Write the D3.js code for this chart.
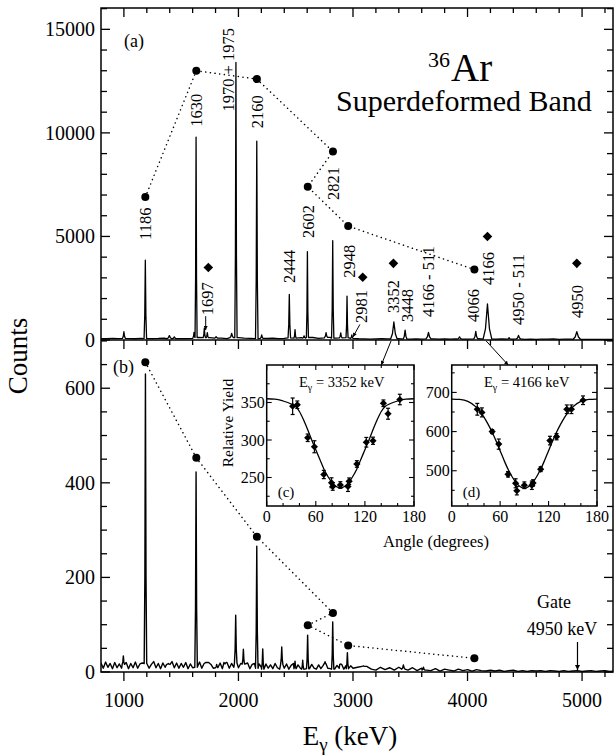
<!DOCTYPE html>
<html><head><meta charset="utf-8">
<script src="https://cdn.jsdelivr.net/npm/d3@7"></script>
<style>
body{margin:0;background:#fff;}
svg{display:block;font-family:"Liberation Serif","Times New Roman",serif;}
</style></head><body>
<svg id="chart" width="614" height="756"></svg>
<script>
// ---------------- DATA ----------------
const xMajorTicks = [1000, 2000, 3000, 4000, 5000];
const topYTickLabels = [0, 5000, 10000, 15000];
const botYTickLabels = [0, 200, 400, 600];

// panel (a): peaks (energy keV, counts, half-width keV)
const topPeakE = [1000, 1187, 1397, 1440, 1612, 1630, 1702, 1728, 1805, 1941, 1978, 2160, 2203, 2444, 2494, 2573, 2602, 2765, 2823, 2893, 2948, 2990, 3357, 3455, 3659, 3930, 4072, 4174, 4363, 4445, 4954];
const topPeakH = [400, 3850, 210, 150, 370, 9800, 570, 360, 160, 320, 13400, 9600, 250, 2200, 500, 200, 4270, 360, 4800, 340, 2120, 250, 870, 480, 370, 150, 420, 1740, 110, 220, 400];
const topPeakW = [12, 11, 20, 15, 8, 9, 10, 10, 14, 15, 10, 11, 12, 11, 9, 12, 9, 12, 10, 12, 9, 10, 28, 16, 22, 20, 16, 38, 16, 20, 32];
// panel (a): background counts every 50 keV from 800
const topBaseC = [70, 60, 75, 65, 80,
  70, 60, 80, 65, 70, 75, 90, 60, 70, 65,
  70, 80, 120, 90, 110, 80, 90, 70, 120, 110,
  90, 80, 110, 70, 80, 90, 70, 80, 100, 90,
  110, 90, 120, 80, 100, 130, 90, 100, 110, 80,
  60, 50, 45, 55, 60, 50, 70, 60, 50, 45,
  50, 45, 60, 50, 40, 55, 45, 50, 40, 45,
  50, 60, 70, 45, 40, 50, 45, 40, 50, 35,
  40, 35, 45, 40, 50, 35, 40, 45, 40, 35,
  30, 35, 30, 35, 30, 30];

// panel (b): peaks
const botPeakE = [995, 1188, 1388, 1630, 1723, 1810, 1883, 1976, 2043, 2160, 2212, 2378, 2494, 2561, 2604, 2756, 2823, 2893, 2951, 3091, 3440, 3615];
const botPeakH = [34, 630, 18, 423, 20, 16, 17, 120, 48, 266, 49, 53, 23, 25, 78, 22, 106, 17, 41, 13, 15, 10];
const botPeakW = [10, 11, 15, 11, 10, 10, 10, 11, 10, 11, 10, 10, 9, 9, 10, 9, 10, 9, 10, 12, 14, 12];
// panel (b): background every 20 keV from 800 to 3000, then every 40 keV
const botBaseC1 = [19, 8, 21, 10, 18, 7, 20, 9, 17, 8,
  16, 20, 7, 18, 9, 21, 8, 17, 19, 9,
  18, 8, 16, 22, 9, 18, 7, 19, 10, 20,
  16, 22, 9, 19, 8, 18, 10, 20, 7, 17,
  9, 19, 10, 21, 8, 18, 9, 20, 16, 8,
  18, 9, 19, 7, 17, 20, 8, 18, 10, 19,
  9, 18, 8, 17, 19, 7, 16, 18, 8, 17,
  10, 6, 17, 8, 15, 7, 18, 9, 6, 16,
  8, 17, 6, 14, 18, 7, 15, 8, 16, 6,
  14, 7, 16, 8, 6, 15, 7, 14, 17, 8,
  7, 15, 6, 14, 8, 16, 6, 14, 7, 13,
  8];
const botBaseC2 = [10, 5, 12, 6, 4, 10, 5, 9, 4, 10,
  6, 4, 9, 3, 8, 4, 3, 7, 2, 6,
  4, 2, 6, 3, 5, 2, 5, 3, 2, 4,
  2, 4, 1, 3, 4, 1, 3, 1, 3, 2,
  3, 1, 3, 2, 1, 3, 1, 2, 3, 1,
  2, 3, 1, 2, 3, 1, 2];

// SD band intensity markers (connected by dotted line)
const bandE = [1187, 1632, 2161, 2825, 2605, 2958, 4060];
const bandTop = [6900, 13000, 12600, 9100, 7400, 5500, 3400];
const bandBot = [655, 453, 286, 125, 99, 56, 29];

// diamonds in panel (a)
const diamondE = [1737, 3085, 3353, 4174, 4954];
const diamondC = [3500, 3030, 3700, 5000, 3700];

// peak labels in panel (a)
const labelText = ["1186", "1630", "1970 + 1975", "2160", "2444", "2602", "2821", "2948", "2981", "1697", "3352", "3448", "4166 - 511", "4066", "4166", "4950 - 511", "4950"];
const labelE = [1186, 1630, 1912, 2160, 2444, 2605, 2828, 2969, 3071, 1730, 3351, 3476, 3659, 4052, 4183, 4445, 4955];
const labelC = [4830, 10300, 11030, 10225, 2750, 4930, 6760, 3000, 820, 1200, 1300, 870, 1110, 870, 2660, 725, 1060];

// angular distributions
const angles = [31.7, 37.4, 50.1, 58.3, 69.8, 79.2, 80.7, 90.0, 99.3, 100.8, 110.2, 121.7, 129.9, 142.6, 148.3, 162.7];
const yieldC = [345, 347, 303, 291, 254, 243, 238, 240, 238, 245, 268, 297, 299, 349, 335, 354];
const errC = [11, 5, 5, 8, 5.5, 6.6, 5, 4.4, 6.6, 4.4, 4.4, 6.4, 4.8, 4.4, 7.3, 7];
const yieldD = [657, 649, 600, 568, 491, 468, 449, 463, 463, 469, 504, 577, 587, 657, 657, 680];
const errD = [15, 11.5, 5, 13, 7, 11.5, 10.7, 8.5, 10.7, 8, 6, 11, 8, 11, 11, 11];
const fitAngles = [0, 10, 20, 30, 35, 40, 45, 50, 55, 60, 65, 70, 75, 80, 85, 90, 95, 100, 105, 110, 115, 120, 125, 130, 135, 140, 145, 150, 160, 170, 180];
const fitC = [355, 354.5, 352, 348, 345, 338, 327, 314, 300, 287, 274, 261, 251, 243, 238, 236, 238, 243, 251, 261, 274, 287, 300, 314, 327, 338, 345, 348, 352, 354.5, 355];
const fitD = [683, 682, 677, 663, 651, 637, 619, 599, 576, 551, 526, 503, 484, 469, 459, 455, 459, 469, 484, 503, 526, 551, 576, 599, 619, 637, 651, 663, 677, 682, 683];
const insetXLabels = [0, 60, 120, 180];
const insetCYLabels = [250, 300, 350];
const insetDYLabels = [500, 600, 700];

// ---------------- DRAW ----------------
const svg = d3.select('#chart');
const L = 101, R = 613, T = 8, M = 340, B = 672;
const x = d3.scaleLinear().domain([800, 5270]).range([L, R]);
const yA = d3.scaleLinear().domain([0, 16030]).range([M, T]);
const yB = d3.scaleLinear().domain([0, 702]).range([B, M]);

const defs = svg.append('defs');
defs.append('clipPath').attr('id', 'clipA').append('rect').attr('x', L).attr('y', T).attr('width', R - L).attr('height', M - T);
defs.append('clipPath').attr('id', 'clipB').append('rect').attr('x', L).attr('y', M).attr('width', R - L).attr('height', B - M);
function marker(id, w, h) {
  defs.append('marker').attr('id', id).attr('viewBox', '0 0 10 10').attr('refX', 10).attr('refY', 5)
    .attr('markerWidth', w).attr('markerHeight', h).attr('markerUnits', 'userSpaceOnUse').attr('orient', 'auto')
    .append('path').attr('d', 'M0,0L10,5L0,10z').attr('fill', '#000');
}
marker('arr', 7, 5);
marker('arrS', 5, 4);

function buildSpectrum(baseE, baseC, pE, pH, pW) {
  const pts = [];
  baseE.forEach((e, i) => {
    if (!pE.some((c, j) => Math.abs(e - c) <= pW[j])) pts.push([e, baseC[i]]);
  });
  const bis = d3.bisector(d => d).left;
  pE.forEach((c, j) => {
    const i = Math.min(baseE.length - 1, bis(baseE, c));
    const b = baseC[i], w = pW[j], h = pH[j];
    pts.push([c - w, b], [c - w * 0.45, b + (h - b) * 0.3], [c, h], [c + w * 0.45, b + (h - b) * 0.3], [c + w, b]);
  });
  pts.sort((a, b) => a[0] - b[0]);
  return pts;
}

const topBaseE = d3.range(800, 800 + 50 * topBaseC.length, 50);
const botBaseE = d3.range(800, 3001, 20).concat(d3.range(3040, 3040 + 40 * botBaseC2.length, 40));
const botBaseC = botBaseC1.concat(botBaseC2);

const specA = buildSpectrum(topBaseE, topBaseC, topPeakE, topPeakH, topPeakW);
const specB = buildSpectrum(botBaseE, botBaseC, botPeakE, botPeakH, botPeakW);

svg.append('path').datum(specA).attr('clip-path', 'url(#clipA)')
  .attr('d', d3.line().x(d => x(d[0])).y(d => yA(d[1])))
  .attr('fill', 'none').attr('stroke', '#000').attr('stroke-width', 1.3).attr('stroke-linejoin', 'round');
svg.append('path').datum(specB).attr('clip-path', 'url(#clipB)')
  .attr('d', d3.line().x(d => x(d[0])).y(d => yB(d[1])))
  .attr('fill', 'none').attr('stroke', '#000').attr('stroke-width', 1.4).attr('stroke-linejoin', 'round');

// frame
const frame = svg.append('g').attr('fill', 'none').attr('stroke', '#000').attr('stroke-width', 1.5);
frame.append('rect').attr('x', L).attr('y', T).attr('width', R - L).attr('height', B - T);
frame.append('line').attr('x1', L).attr('x2', R).attr('y1', M).attr('y2', M);

// ticks
const tk = svg.append('g').attr('stroke', '#000').attr('stroke-width', 1.3);
const xMinor = d3.range(1000, 5270, 200);
[T, M, B].forEach(yy => {
  xMinor.forEach(v => {
    const maj = v % 1000 === 0;
    tk.append('line').attr('x1', x(v)).attr('x2', x(v)).attr('y1', yy).attr('y2', yy + (maj ? 9 : 5));
  });
});
function yTicks(scale, step, majorStep, max) {
  d3.range(0, max + 1, step).forEach(v => {
    const maj = v % majorStep === 0;
    const len = maj ? 9 : 6;
    tk.append('line').attr('x1', L).attr('x2', L + len).attr('y1', scale(v)).attr('y2', scale(v));
    tk.append('line').attr('x1', R).attr('x2', R - len).attr('y1', scale(v)).attr('y2', scale(v));
  });
}
yTicks(yA, 1000, 5000, 16000);
yTicks(yB, 50, 200, 700);

// tick labels
const lab = svg.append('g').attr('font-size', 20).attr('fill', '#000');
topYTickLabels.forEach(v => lab.append('text').attr('x', L - 6).attr('y', yA(v)).attr('dy', '0.35em').attr('text-anchor', 'end').text(v));
botYTickLabels.forEach(v => lab.append('text').attr('x', L - 6).attr('y', yB(v)).attr('dy', '0.35em').attr('text-anchor', 'end').text(v));
xMajorTicks.forEach(v => lab.append('text').attr('x', x(v)).attr('y', 707).attr('text-anchor', 'middle').text(v));

// axis titles
svg.append('text').attr('transform', 'translate(27,356) rotate(-90)').attr('text-anchor', 'middle').attr('font-size', 27).text('Counts');
const xt = svg.append('text').attr('x', 350).attr('y', 745).attr('text-anchor', 'middle').attr('font-size', 27);
xt.append('tspan').text('E');
xt.append('tspan').attr('font-size', 19).attr('dy', 6).text('γ');
xt.append('tspan').attr('dy', -6).text(' (keV)');

// panel titles
svg.append('text').attr('x', 124).attr('y', 47).attr('font-size', 18).text('(a)');
svg.append('text').attr('x', 113).attr('y', 373).attr('font-size', 18).text('(b)');
svg.append('text').attr('x', 428).attr('y', 67).attr('font-size', 22).text('36');
svg.append('text').attr('x', 451).attr('y', 81).attr('font-size', 39).text('Ar');
svg.append('text').attr('x', 464).attr('y', 111).attr('text-anchor', 'middle').attr('font-size', 30).text('Superdeformed Band');

// dotted band lines + dots
const dotted = { 'fill': 'none', 'stroke': '#000', 'stroke-width': 1.5, 'stroke-dasharray': '0.1 4.6', 'stroke-linecap': 'round' };
function dottedPath(scale, vals) {
  const p = svg.append('path').datum(bandE.map((e, i) => [e, vals[i]]))
    .attr('d', d3.line().x(d => x(d[0])).y(d => scale(d[1])));
  Object.entries(dotted).forEach(([k, v]) => p.attr(k, v));
  svg.append('g').selectAll('circle').data(bandE).join('circle')
    .attr('cx', d => x(d)).attr('cy', (d, i) => scale(vals[i])).attr('r', 4).attr('fill', '#000');
}
dottedPath(yA, bandTop);
dottedPath(yB, bandBot);

// diamonds
const dia = s => `M0,${-s}L${s},0L0,${s}L${-s},0Z`;
svg.append('g').selectAll('path').data(diamondE).join('path')
  .attr('d', dia(4.8)).attr('transform', (d, i) => `translate(${x(d)},${yA(diamondC[i])})`).attr('fill', '#000');

// peak labels
svg.append('g').attr('font-size', 16.5).selectAll('text').data(labelText).join('text')
  .attr('transform', (d, i) => `translate(${x(labelE[i])},${yA(labelC[i])}) rotate(-90)`)
  .attr('dy', '0.35em').text(d => d);

// small arrows in panel (a)
svg.append('line').attr('x1', x(1714)).attr('x2', x(1714)).attr('y1', yA(1150)).attr('y2', yA(480))
  .attr('stroke', '#000').attr('stroke-width', 1).attr('marker-end', 'url(#arrS)');
svg.append('line').attr('x1', x(3060)).attr('x2', x(3000)).attr('y1', yA(750)).attr('y2', yA(150))
  .attr('stroke', '#000').attr('stroke-width', 1).attr('marker-end', 'url(#arrS)');

// gate label
svg.append('text').attr('x', 554).attr('y', 608).attr('text-anchor', 'middle').attr('font-size', 18).text('Gate');
svg.append('text').attr('x', 562).attr('y', 635).attr('text-anchor', 'middle').attr('font-size', 18).text('4950 keV');
svg.append('line').attr('x1', x(4960)).attr('x2', x(4960)).attr('y1', 642).attr('y2', 670)
  .attr('stroke', '#000').attr('stroke-width', 1.2).attr('marker-end', 'url(#arr)');

// ---------------- INSETS ----------------
function drawInset(o) {
  const g = svg.append('g');
  const xs = d3.scaleLinear().domain([0, 180]).range([o.x0, o.x1]);
  const ys = d3.scaleLinear().domain(o.yDomain).range([o.y1, o.y0]);
  g.append('rect').attr('x', o.x0).attr('y', o.y0).attr('width', o.x1 - o.x0).attr('height', o.y1 - o.y0)
    .attr('fill', '#fff').attr('stroke', '#000').attr('stroke-width', 1.5);
  const t = g.append('g').attr('stroke', '#000').attr('stroke-width', 1.1);
  d3.range(0, 181, 20).forEach(v => {
    const len = v % 60 === 0 ? 5 : 3;
    t.append('line').attr('x1', xs(v)).attr('x2', xs(v)).attr('y1', o.y1).attr('y2', o.y1 - len);
    t.append('line').attr('x1', xs(v)).attr('x2', xs(v)).attr('y1', o.y0).attr('y2', o.y0 + len);
  });
  o.yMinor.forEach(v => {
    const len = o.yLabels.includes(v) ? 5 : 3;
    t.append('line').attr('x1', o.x0).attr('x2', o.x0 + len).attr('y1', ys(v)).attr('y2', ys(v));
    t.append('line').attr('x1', o.x1).attr('x2', o.x1 - len).attr('y1', ys(v)).attr('y2', ys(v));
  });
  const lg = g.append('g').attr('font-size', 16);
  insetXLabels.forEach(v => lg.append('text').attr('x', xs(v)).attr('y', o.y1 + 16).attr('text-anchor', 'middle').text(v));
  o.yLabels.forEach(v => lg.append('text').attr('x', o.x0 - 2).attr('y', ys(v)).attr('dy', '0.35em').attr('text-anchor', 'end').text(v));
  // fit curve
  const cid = 'clip' + o.id;
  defs.append('clipPath').attr('id', cid).append('rect').attr('x', o.x0).attr('y', o.y0).attr('width', o.x1 - o.x0).attr('height', o.y1 - o.y0);
  g.append('path').datum(fitAngles.map((a, i) => [a, o.fit[i]])).attr('clip-path', `url(#${cid})`)
    .attr('d', d3.line().curve(d3.curveMonotoneX).x(d => xs(d[0])).y(d => ys(d[1])))
    .attr('fill', 'none').attr('stroke', '#000').attr('stroke-width', 1.3);
  // error bars
  const eb = g.append('g').attr('stroke', '#000').attr('stroke-width', 1.2);
  angles.forEach((a, i) => {
    const cx = xs(a), lo = ys(o.vals[i] - o.err[i]), hi = ys(o.vals[i] + o.err[i]);
    eb.append('line').attr('x1', cx).attr('x2', cx).attr('y1', lo).attr('y2', hi);
    eb.append('line').attr('x1', cx - 2).attr('x2', cx + 2).attr('y1', lo).attr('y2', lo);
    eb.append('line').attr('x1', cx - 2).attr('x2', cx + 2).attr('y1', hi).attr('y2', hi);
  });
  g.append('g').selectAll('path').data(angles).join('path').attr('d', dia(3.6))
    .attr('transform', (a, i) => `translate(${xs(a)},${ys(o.vals[i])})`).attr('fill', '#000');
  // title
  const tt = g.append('text').attr('x', o.titleX).attr('y', o.y0 + 21.7).attr('font-size', 14.5);
  tt.append('tspan').text('E');
  tt.append('tspan').attr('font-size', 10).attr('dy', 4).text('γ');
  tt.append('tspan').attr('dy', -4).text(' = ' + o.energy + ' keV');
  g.append('text').attr('x', o.x0 + 11).attr('y', o.y1 - 8.7).attr('font-size', 15).text(o.tag);
  return xs;
}
const xsC = drawInset({ id: 'c', tag: '(c)', x0: 266.7, x1: 414, y0: 365, y1: 506, yDomain: [212, 400],
  yMinor: d3.range(225, 400, 25), yLabels: insetCYLabels, vals: yieldC, err: errC, fit: fitC, energy: 3352, titleX: 299 });
const xsD = drawInset({ id: 'd', tag: '(d)', x0: 451.7, x1: 597, y0: 365, y1: 506, yDomain: [410, 770],
  yMinor: d3.range(450, 770, 50), yLabels: insetDYLabels, vals: yieldD, err: errD, fit: fitD, energy: 4166, titleX: 484 });

svg.append('text').attr('transform', 'translate(233,423) rotate(-90)').attr('text-anchor', 'middle').attr('font-size', 15.5).text('Relative Yield');
svg.append('text').attr('x', 436).attr('y', 547).attr('text-anchor', 'middle').attr('font-size', 16.5).text('Angle (degrees)');

// arrows from peaks to insets
svg.append('line').attr('x1', x(3332)).attr('y1', M + 1).attr('x2', xsC(140)).attr('y2', 365)
  .attr('stroke', '#000').attr('stroke-width', 1).attr('marker-end', 'url(#arrS)');
svg.append('line').attr('x1', x(4163)).attr('y1', M + 1).attr('x2', xsD(70)).attr('y2', 365)
  .attr('stroke', '#000').attr('stroke-width', 1).attr('marker-end', 'url(#arrS)');
</script>
</body></html>
